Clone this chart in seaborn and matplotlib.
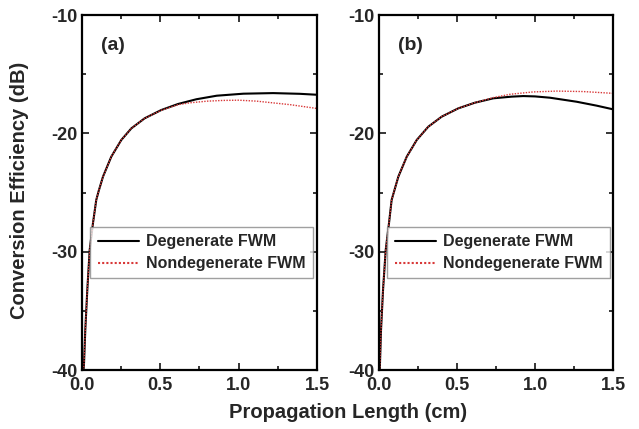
import matplotlib
matplotlib.use("Agg")
import matplotlib.pyplot as plt
import seaborn as sns
import pandas as pd
from matplotlib.ticker import MultipleLocator

# ---- data ----
xa_deg = [0.010, 0.013, 0.021, 0.034, 0.049, 0.070, 0.091, 0.107, 0.134, 0.187, 0.251,
          0.315, 0.400, 0.506, 0.613, 0.730, 0.860, 1.030, 1.220, 1.390, 1.500]
ya_deg = [-40.0, -39.4, -36.6, -33.2, -29.86, -27.6, -25.63, -24.85, -23.66, -21.97, -20.56,
          -19.58, -18.73, -18.03, -17.52, -17.12, -16.82, -16.65, -16.60, -16.66, -16.74]
xa_non = [0.010, 0.013, 0.021, 0.034, 0.049, 0.070, 0.091, 0.107, 0.134, 0.187, 0.251,
          0.315, 0.400, 0.506, 0.613, 0.689, 0.800, 0.900, 1.000, 1.115, 1.330, 1.500]
ya_non = [-40.0, -39.4, -36.6, -33.2, -29.86, -27.6, -25.63, -24.85, -23.66, -21.97, -20.56,
          -19.58, -18.73, -18.05, -17.58, -17.42, -17.28, -17.22, -17.20, -17.28, -17.58, -17.90]

xb_deg = [0.005, 0.013, 0.026, 0.043, 0.064, 0.081, 0.098, 0.124, 0.178, 0.242, 0.316,
          0.402, 0.508, 0.615, 0.733, 0.850, 0.925, 1.000, 1.096, 1.267, 1.395, 1.500]
yb_deg = [-40.0, -36.6, -33.2, -29.86, -27.6, -25.63, -24.85, -23.66, -21.97, -20.56, -19.44,
          -18.59, -17.89, -17.41, -17.04, -16.90, -16.85, -16.88, -16.99, -17.33, -17.66, -17.97]
xb_non = [0.005, 0.013, 0.026, 0.043, 0.064, 0.081, 0.098, 0.124, 0.178, 0.242, 0.316,
          0.402, 0.508, 0.615, 0.733, 0.840, 0.989, 1.139, 1.310, 1.500]
yb_non = [-40.0, -36.6, -33.2, -29.86, -27.6, -25.63, -24.85, -23.66, -21.97, -20.56, -19.44,
          -18.59, -17.89, -17.41, -16.98, -16.70, -16.50, -16.43, -16.47, -16.62]

series_names = ["Degenerate FWM", "Nondegenerate FWM"]
panel_labels = ["(a)", "(b)"]
x_ticks = [0.0, 0.5, 1.0, 1.5]
y_ticks = [-40, -30, -20, -10]

sns.set_style("ticks")
plt.rcParams["font.family"] = ["Liberation Sans", "DejaVu Sans"]
plt.rcParams["font.weight"] = "bold"

fig = plt.figure(figsize=(6.39, 4.29), dpi=100)
W, H = 639, 429
axA = fig.add_axes([82 / W, (H - 370) / H, 235 / W, 355 / H])
axB = fig.add_axes([379 / W, (H - 370) / H, 234 / W, 355 / H])

panels = [
    (axA, xa_deg, ya_deg, xa_non, ya_non, panel_labels[0]),
    (axB, xb_deg, yb_deg, xb_non, yb_non, panel_labels[1]),
]

for ax, xd, yd, xn, yn, lab in panels:
    df = pd.concat([
        pd.DataFrame({"x": xd, "y": yd, "s": series_names[0]}),
        pd.DataFrame({"x": xn, "y": yn, "s": series_names[1]}),
    ])
    sns.lineplot(data=df, x="x", y="y", hue="s", style="s",
                 palette={series_names[0]: "black", series_names[1]: "#d83838"},
                 dashes={series_names[0]: "", series_names[1]: (1, 1)},
                 sort=False, estimator=None, ax=ax, legend=True)
    lines = ax.get_lines()
    lines[0].set_linewidth(1.5)
    lines[1].set_linewidth(1.0)
    ax.set_xlim(0, 1.5)
    ax.set_ylim(-40, -10)
    ax.set_xticks(x_ticks)
    ax.set_yticks(y_ticks)
    ax.set_xticklabels([f"{v:.1f}" for v in x_ticks])
    ax.set_yticklabels([str(v) for v in y_ticks])
    ax.xaxis.set_minor_locator(MultipleLocator(0.25))
    ax.yaxis.set_minor_locator(MultipleLocator(5))
    ax.tick_params(which="both", direction="in", top=True, right=True, width=1.3)
    ax.tick_params(which="major", length=5, labelsize=13)
    ax.tick_params(axis="x", which="major", pad=5)
    ax.tick_params(axis="y", which="major", pad=3)
    ax.tick_params(which="minor", length=3)
    for t in ax.get_xticklabels() + ax.get_yticklabels():
        t.set_fontweight("bold")
    for sp in ax.spines.values():
        sp.set_linewidth(1.6)
        sp.set_color("black")
    ax.set_xlabel("")
    ax.set_ylabel("")
    ax.text(0.08, 0.915, lab, transform=ax.transAxes, fontsize=14, fontweight="bold",
            ha="left", va="center")
    leg = ax.legend(loc="upper left", bbox_to_anchor=(0.036, 0.403), fontsize=11.5,
                    frameon=True, fancybox=False, handlelength=2.6, borderpad=0.45,
                    labelspacing=0.45, handletextpad=0.45, borderaxespad=0)
    leg.get_frame().set_edgecolor("#888888")
    leg.get_frame().set_linewidth(1.0)
    for t in leg.get_texts():
        t.set_fontweight("bold")

fig.text(348 / W, 1 - 412 / H, "Propagation Length (cm)", ha="center", va="center",
         fontsize=14.5, fontweight="bold")
fig.text(20 / W, 1 - 190 / H, "Conversion Efficiency (dB)", ha="center", va="center",
         rotation=90, fontsize=14.5, fontweight="bold")

fig.savefig("out.png", dpi=100)
